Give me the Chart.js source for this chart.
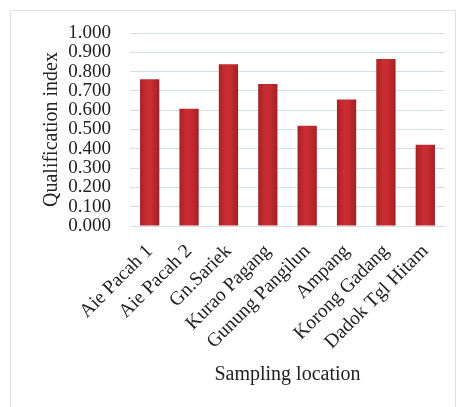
<!DOCTYPE html>
<html>
<head>
<meta charset="utf-8">
<script src="https://cdn.jsdelivr.net/npm/chart.js@4"></script>
<style>
  html, body { margin: 0; padding: 0; background: #fff; overflow: hidden; }
  #wrap { position: relative; width: 464px; height: 407px; overflow: hidden; }
  #frame { position: absolute; left: 10px; top: 10px; width: 444px; height: 420px; border: 1px solid #dde0e4; }
  canvas { position: absolute; left: 0; top: 0; }
</style>
</head>
<body>
<div id="wrap">
  <div id="frame"></div>
  <canvas id="chart" width="464" height="407"></canvas>
</div>
<script>
// sampling locations and their qualification index
const locations = ["Aie Pacah 1", "Aie Pacah 2", "Gn.Sariek", "Kurao Pagang", "Gunung Pangilun", "Ampang", "Korong Gadang", "Dadok Tgl Hitam"];
const qualification = [0.760, 0.608, 0.838, 0.736, 0.520, 0.656, 0.865, 0.421];
const yTicks = [0, 0.1, 0.2, 0.3, 0.4, 0.5, 0.6, 0.7, 0.8, 0.9, 1.0];

const serif = "'Liberation Serif', 'Times New Roman', serif";

// give every bar its own horizontal shade, darker at the edges
const barShade = {
  id: "barShade",
  beforeDatasetsDraw(chart) {
    const ctx = chart.ctx;
    chart.getDatasetMeta(0).data.forEach((bar) => {
      const g = ctx.createLinearGradient(bar.x - bar.width / 2, 0, bar.x + bar.width / 2, 0);
      g.addColorStop(0, "#a82226");
      g.addColorStop(0.4, "#ca2e33");
      g.addColorStop(0.6, "#c72c31");
      g.addColorStop(1, "#a32024");
      bar.options = Object.assign({}, bar.options, { backgroundColor: g });
    });
  },
};

new Chart(document.getElementById("chart"), {
  type: "bar",
  data: {
    labels: locations,
    datasets: [{
      data: qualification,
      backgroundColor: "#c0292f",
      borderWidth: 0,
      categoryPercentage: 1,
      barPercentage: 0.49,
    }],
  },
  options: {
    responsive: false,
    animation: false,
    layout: { padding: { left: 30, top: 33, right: 19, bottom: 0 } },
    plugins: { legend: { display: false }, tooltip: { enabled: false } },
    scales: {
      x: {
        grid: { display: false },
        border: { color: "#d6dde6" },
        ticks: {
          color: "#222",
          font: { family: serif, size: 19.5 },
          minRotation: 45,
          maxRotation: 45,
          autoSkip: false,
          padding: 6,
        },
        title: {
          display: true,
          text: "Sampling location",
          color: "#222",
          font: { family: serif, size: 20 },
          padding: { top: 0, bottom: 20 },
        },
        afterFit(scale) { scale.height = 181; },
      },
      y: {
        min: 0,
        max: 1,
        afterBuildTicks(scale) { scale.ticks = yTicks.map((v) => ({ value: v })); },
        grid: { color: "#d6dde6", drawTicks: false },
        border: { display: false },
        ticks: {
          color: "#222",
          font: { family: serif, size: 19 },
          autoSkip: false,
          padding: 19,
          callback: (v) => Number(v).toFixed(3),
        },
        title: {
          display: true,
          text: "Qualification index",
          color: "#222",
          font: { family: serif, size: 20 },
          padding: { top: 10, bottom: 0 },
        },
        afterFit(scale) { scale.width = 100; },
      },
    },
  },
  plugins: [barShade],
});
</script>
</body>
</html>
